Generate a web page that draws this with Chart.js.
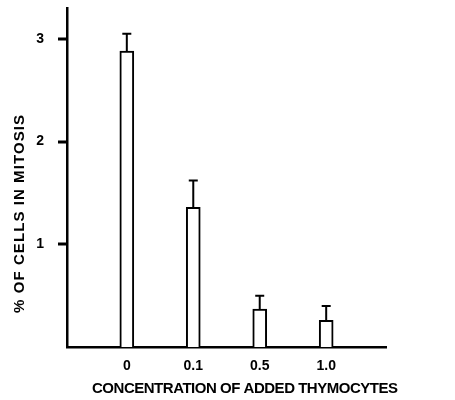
<!DOCTYPE html>
<html>
<head>
<meta charset="utf-8">
<script src="https://cdn.jsdelivr.net/npm/chart.js@4/dist/chart.umd.min.js"></script>
<style>
  html, body { margin: 0; padding: 0; background: #fff; }
  #wrap { width: 455px; height: 400px; }
</style>
</head>
<body>
<div id="wrap"><canvas id="c" width="455" height="400"></canvas></div>
<script>
// ---- data ----
const categories = ['0', '0.1', '0.5', '1.0'];
const positions = [0, 1, 2, 3];
const mitosisPct = [2.88, 1.36, 0.37, 0.26];
const errorTop = [3.05, 1.62, 0.50, 0.40];
const yTicks = [1, 2, 3];
const xTitle = 'CONCENTRATION OF ADDED THYMOCYTES';
const yTitle = '% OF CELLS IN MITOSIS';

const FONT = '"Liberation Sans", Arial, sans-serif';

const errorBarPlugin = {
  id: 'errorBars',
  afterDatasetsDraw(chart) {
    const ctx = chart.ctx;
    const xs = chart.scales.x, ys = chart.scales.y;
    ctx.save();
    ctx.strokeStyle = '#000';
    ctx.lineWidth = 2;
    for (let i = 0; i < positions.length; i++) {
      const x = xs.getPixelForValue(positions[i]);
      const yb = ys.getPixelForValue(mitosisPct[i]);
      const yt = ys.getPixelForValue(errorTop[i]);
      ctx.beginPath();
      ctx.moveTo(x, yb);
      ctx.lineTo(x, yt);
      ctx.moveTo(x - 4.5, yt);
      ctx.lineTo(x + 4.5, yt);
      ctx.stroke();
    }
    ctx.restore();
  }
};

function fitText(ctx, text, target) {
  ctx.letterSpacing = '0px';
  const w = ctx.measureText(text).width;
  const ls = (target - w) / (text.length - 1);
  ctx.letterSpacing = ls.toFixed(2) + 'px';
}

const axisExtrasPlugin = {
  id: 'axisExtras',
  afterDraw(chart) {
    const ctx = chart.ctx;
    const ys = chart.scales.y;
    const left = chart.chartArea.left;
    // y tick marks
    ctx.save();
    ctx.fillStyle = '#000';
    yTicks.forEach(v => {
      const y = ys.getPixelForValue(v);
      ctx.fillRect(left - 9, Math.round(y) - 1.5, 10, 3);
    });
    ctx.restore();
    // axis titles
    ctx.save();
    ctx.fillStyle = '#000';
    ctx.font = 'bold 15px ' + FONT;
    ctx.textAlign = 'left';
    ctx.textBaseline = 'middle';
    fitText(ctx, xTitle, 306);
    ctx.fillText(xTitle, 92, 389);
    ctx.restore();
    ctx.save();
    ctx.fillStyle = '#000';
    ctx.font = 'bold 15px ' + FONT;
    ctx.textAlign = 'left';
    ctx.textBaseline = 'middle';
    fitText(ctx, yTitle, 198);
    ctx.translate(20, 313);
    ctx.rotate(-Math.PI / 2);
    ctx.fillText(yTitle, 0, 0);
    ctx.restore();
  }
};

new Chart(document.getElementById('c'), {
  type: 'bar',
  data: {
    datasets: [{
      data: positions.map((p, i) => ({ x: p, y: mitosisPct[i] })),
      backgroundColor: '#fff',
      borderColor: '#000',
      borderWidth: 2,
      borderSkipped: 'bottom',
      barThickness: 14
    }]
  },
  options: {
    responsive: false,
    animation: false,
    layout: { padding: { left: 0, right: 69, top: 8, bottom: 0 } },
    plugins: { legend: { display: false }, tooltip: { enabled: false } },
    scales: {
      x: {
        type: 'linear',
        offset: false,
        min: -0.9,
        max: 3.9,
        grid: { display: false, drawTicks: false },
        border: { display: true, color: '#000', width: 2.5 },
        afterBuildTicks(scale) { scale.ticks = positions.map(v => ({ value: v })); },
        afterFit(scale) { scale.height = 53; scale.paddingLeft = 0; scale.paddingRight = 0; },
        ticks: {
          color: '#000',
          padding: 11,
          font: { family: FONT, size: 14, weight: 'bold' },
          callback: (v) => {
            const i = positions.indexOf(v);
            return i >= 0 ? categories[i] : '';
          }
        }
      },
      y: {
        min: 0,
        max: 3.3,
        grid: { display: false, drawTicks: false },
        border: { display: true, color: '#000', width: 2.5 },
        afterBuildTicks(scale) { scale.ticks = yTicks.map(v => ({ value: v })); },
        afterFit(scale) { scale.width = 67; scale.paddingTop = 0; scale.paddingBottom = 0; },
        ticks: {
          color: '#000',
          padding: 23,
          font: { family: FONT, size: 14, weight: 'bold' },
          callback: (v) => String(v)
        }
      }
    }
  },
  plugins: [errorBarPlugin, axisExtrasPlugin]
});
</script>
</body>
</html>
